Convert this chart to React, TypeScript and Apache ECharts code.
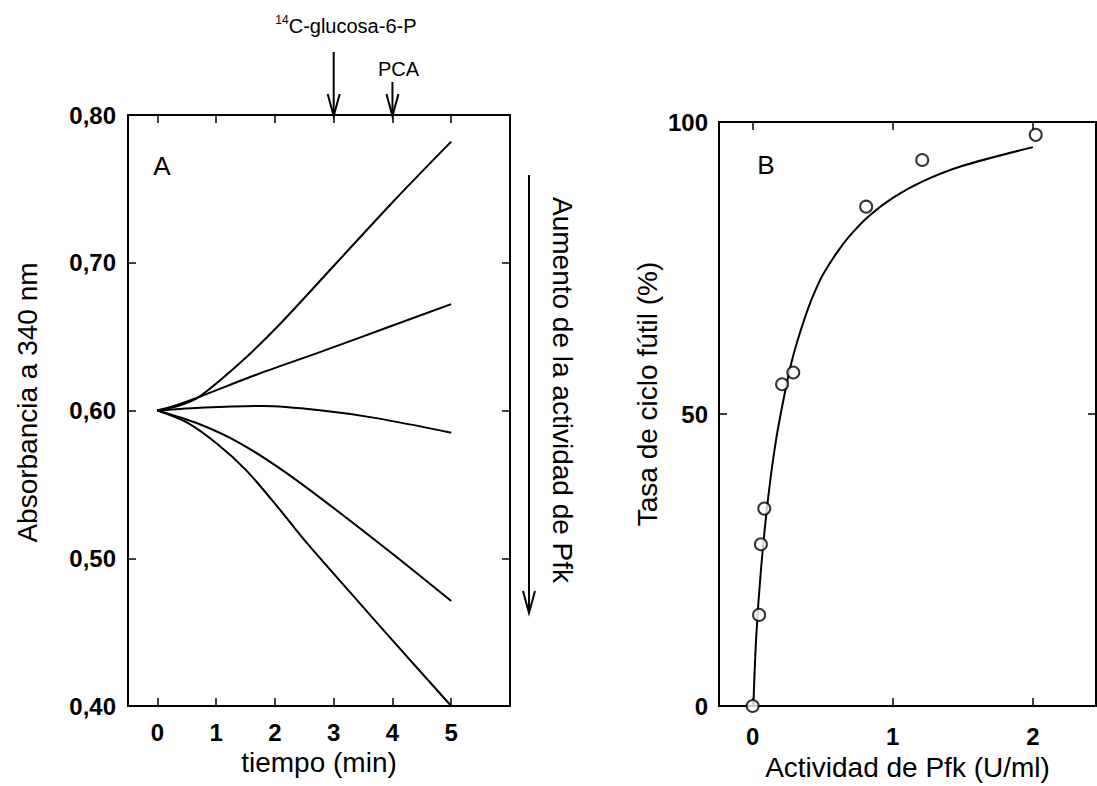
import React, { useEffect, useRef } from "react";
import * as echarts from "echarts";

// ---- Panel A: absorbance vs time ----
const timeTicks = [0, 1, 2, 3, 4, 5];
const absTicks = [0.4, 0.5, 0.6, 0.7, 0.8];
const curveA1 = [[0, 0.6], [0.35, 0.603], [0.7, 0.609], [1.4, 0.632], [2.05, 0.657], [3.05, 0.7], [4.05, 0.743], [5, 0.782]];
const curveA2 = [[0, 0.6], [0.35, 0.604], [0.7, 0.609], [1.67, 0.624], [2.8, 0.64], [3.9, 0.656], [5, 0.672]];
const curveA3 = [[0, 0.6], [0.8, 0.602], [1.8, 0.603], [2.8, 0.6], [3.7, 0.595], [5, 0.585]];
const curveA4 = [[0, 0.6], [0.7, 0.591], [1.4, 0.578], [2.15, 0.559], [2.9, 0.537], [4, 0.503], [5, 0.471]];
const curveA5 = [[0, 0.6], [0.5, 0.592], [1, 0.578], [1.5, 0.56], [2, 0.537], [2.55, 0.51], [3.3, 0.476], [4.1, 0.44], [5, 0.4]];
const eventTimes = [3, 4];
const eventLabels = ["C-glucosa-6-P", "PCA"];

// ---- Panel B: futile cycle rate vs Pfk activity ----
const pfkTicks = [0, 1, 2];
const rateTicks = [0, 50, 100];
const pointsX = [0, 0.046, 0.059, 0.083, 0.21, 0.29, 0.81, 1.21, 2.02];
const pointsY = [0, 15.6, 27.7, 33.8, 55.1, 57.1, 85.5, 93.5, 97.8];
const fitX = [0.005, 0.026, 0.06, 0.11, 0.17, 0.25, 0.29, 0.33, 0.37, 0.41, 0.45, 0.5, 0.6, 0.7, 0.83, 1.0, 1.21, 1.5, 2.0];
const fitY = [0, 12, 23.5, 35.5, 46, 56, 60, 63.3, 66.3, 69, 71.3, 73.8, 77.6, 80.7, 83.9, 87, 89.8, 92.5, 95.7];

const FONT = "'Liberation Sans', Arial, Helvetica, sans-serif";
const BLACK = "#000";
const axisLineStyle = { color: BLACK, width: 2 };

function boxAxis(common: any, primary: boolean, labelCfg: any) {
  return {
    ...common,
    axisLine: { show: true, onZero: false, lineStyle: axisLineStyle },
    axisTick: { show: true, inside: true, length: 8, lineStyle: { color: BLACK, width: 1.5 }, customValues: common._ticks },
    axisLabel: primary
      ? { show: true, customValues: common._ticks, color: BLACK, fontFamily: FONT, fontSize: 24, fontWeight: "bold", ...labelCfg }
      : { show: false },
    splitLine: { show: false },
  };
}

export default function App() {
  const ref = useRef<HTMLDivElement>(null);

  useEffect(() => {
    if (!ref.current) return;
    const chart = echarts.init(ref.current, null, { renderer: "svg" });
    const lineSeries = (data: number[][]) => ({
      type: "line",
      xAxisIndex: 0,
      yAxisIndex: 0,
      data,
      smooth: 0.3,
      showSymbol: false,
      lineStyle: { color: BLACK, width: 2 },
      silent: true,
    });
    const fmtA = (v: number) => v.toFixed(2).replace(".", ",");

    const xA = { gridIndex: 0, type: "value", min: -0.5, max: 6, _ticks: timeTicks };
    const yA = { gridIndex: 0, type: "value", min: 0.4, max: 0.8, interval: 0.1, _ticks: absTicks };
    const xB = { gridIndex: 1, type: "value", min: -0.24, max: 2.45, _ticks: pfkTicks };
    const yB = { gridIndex: 1, type: "value", min: 0, max: 100, interval: 50, _ticks: rateTicks };
    const strip = (o: any) => { const { _ticks, ...rest } = o; return rest; };

    const option: any = {
      animation: false,
      backgroundColor: "#fff",
      grid: [
        { left: 128, top: 115, width: 382, height: 591 },
        { left: 719, top: 122, width: 377, height: 588 },
      ],
      xAxis: [
        {
          ...strip(boxAxis(xA, true, { margin: 14 })), position: "bottom",
          name: "tiempo (min)", nameLocation: "middle", nameGap: 42,
          nameTextStyle: { color: BLACK, fontFamily: FONT, fontSize: 28 },
        },
        { ...strip(boxAxis(xA, false, {})), position: "top" },
        {
          ...strip(boxAxis(xB, true, { margin: 18 })), position: "bottom",
          name: "Actividad de Pfk (U/ml)", nameLocation: "middle", nameGap: 47,
          nameTextStyle: { color: BLACK, fontFamily: FONT, fontSize: 28 },
        },
        { ...strip(boxAxis(xB, false, {})), position: "top" },
      ],
      yAxis: [
        {
          ...strip(boxAxis(yA, true, { margin: 12, formatter: fmtA })), position: "left",
          name: "Absorbancia a 340 nm", nameLocation: "middle", nameGap: 87,
          nameTextStyle: { color: BLACK, fontFamily: FONT, fontSize: 28, padding: [0, 0, 0, 16] },
        },
        { ...strip(boxAxis(yA, false, {})), position: "right" },
        {
          ...strip(boxAxis(yB, true, { margin: 11 })), position: "left",
          name: "Tasa de ciclo fútil (%)", nameLocation: "middle", nameGap: 58,
          nameTextStyle: { color: BLACK, fontFamily: FONT, fontSize: 28, padding: [0, 0, 0, 40] },
        },
        { ...strip(boxAxis(yB, false, {})), position: "right" },
      ],
      series: [
        lineSeries(curveA1),
        lineSeries(curveA2),
        lineSeries(curveA3),
        lineSeries(curveA4),
        lineSeries(curveA5),
        {
          type: "line",
          xAxisIndex: 2,
          yAxisIndex: 2,
          data: fitX.map((x, i) => [x, fitY[i]]),
          smooth: 0.3,
          showSymbol: false,
          lineStyle: { color: BLACK, width: 2 },
          silent: true,
          z: 2,
        },
        {
          type: "scatter",
          xAxisIndex: 2,
          yAxisIndex: 2,
          data: pointsX.map((x, i) => [x, pointsY[i]]),
          symbol: "circle",
          symbolSize: 12,
          itemStyle: { color: "#fff", borderColor: BLACK, borderWidth: 2 },
          silent: true,
          z: 3,
        },
      ],
    };
    chart.setOption(option);

    // annotations computed from the axes
    const xa = chart.convertToPixel({ xAxisIndex: 0 }, eventTimes[0]) as number;
    const xb = chart.convertToPixel({ xAxisIndex: 0 }, eventTimes[1]) as number;
    const yTop = chart.convertToPixel({ yAxisIndex: 0 }, 0.8) as number;
    const ls = { stroke: BLACK, lineWidth: 2, fill: "none" };
    const arrow = (x: number, y1: number, y2: number) => [
      { type: "line", shape: { x1: x, y1, x2: x, y2 }, style: ls, silent: true },
      { type: "polyline", shape: { points: [[x - 6, y2 - 22], [x, y2], [x + 6, y2 - 22]] }, style: ls, silent: true },
    ];
    const txt = (text: string, x: number, y: number, size: number, extra: any = {}) => ({
      type: "text",
      x,
      y,
      silent: true,
      style: {
        text,
        fill: BLACK,
        fontFamily: FONT,
        fontSize: size,
        align: extra.align || "center",
        textAlign: extra.align || "center",
        verticalAlign: "middle",
        textVerticalAlign: "middle",
      },
      ...(extra.rotation !== undefined ? { rotation: extra.rotation } : {}),
    });
    const glucStart = xa - 58;
    chart.setOption({
      graphic: [
        ...arrow(xa, 52, yTop + 1),
        ...arrow(xb, 82, yTop + 1),
        ...arrow(529, 175, 613),
        txt("14", glucStart + 13, 20, 12, { align: "right" }),
        txt(eventLabels[0], glucStart + 13, 26, 20, { align: "left" }),
        txt(eventLabels[1], xb + 6, 69, 20),
        txt("Aumento de la actividad de Pfk", 562, 390, 28, { rotation: -Math.PI / 2 }),
        txt("A", 162, 166, 26),
        txt("B", 766, 165, 26),
      ],
    });

    return () => chart.dispose();
  }, []);

  return (
    <div
      ref={ref}
      style={{ position: "absolute", left: 0, top: 0, width: 1097, height: 786, background: "#fff" }}
    />
  );
}
